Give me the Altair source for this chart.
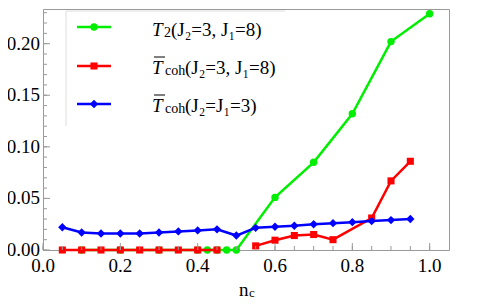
import altair as alt
import pandas as pd

# ---- data ----
green_x = [0.1, 0.2, 0.3, 0.4, 0.425, 0.45, 0.475, 0.5, 0.6, 0.7, 0.8, 0.9, 1.0]
green_y = [0, 0, 0, 0, 0, 0, 0, 0, 0.051, 0.085, 0.132, 0.202, 0.229]

red_x = [0.05, 0.1, 0.15, 0.2, 0.25, 0.3, 0.35, 0.4, 0.45,
         0.55, 0.6, 0.65, 0.7, 0.75, 0.85, 0.9, 0.95]
red_y = [0, 0, 0, 0, 0, 0, 0, 0, 0,
         0.004, 0.0095, 0.014, 0.015, 0.010, 0.031, 0.067, 0.086]
red_seg = [0] * 9 + [1] * 8

blue_x = [0.05, 0.1, 0.15, 0.2, 0.25, 0.3, 0.35, 0.4, 0.45, 0.5,
          0.55, 0.6, 0.65, 0.7, 0.75, 0.8, 0.85, 0.9, 0.95]
blue_y = [0.022, 0.017, 0.016, 0.016, 0.016, 0.017, 0.018, 0.019, 0.020, 0.014,
          0.0215, 0.0225, 0.0235, 0.025, 0.026, 0.027, 0.028, 0.029, 0.030]

x_major = [0.0, 0.2, 0.4, 0.6, 0.8, 1.0]
x_labels = ["0.0", "0.2", "0.4", "0.6", "0.8", "1.0"]
x_minor = [round(i * 0.05, 2) for i in range(0, 21)]
y_major = [0.0, 0.05, 0.10, 0.15, 0.20]
y_labels = ["0.00", "0.05", "0.10", "0.15", "0.20"]
y_minor = [round(i * 0.01, 2) for i in range(0, 24)]

W, H = 406, 241
FONT = "'Liberation Serif', 'Times New Roman', Times, serif"
GREEN, RED, BLUE = "#00ee00", "#ff0000", "#0000ff"
FRAME = "#9a9a9a"

xs = alt.Scale(domain=[0, 1.05], nice=False, zero=False)
ys = alt.Scale(domain=[0, 0.2336], nice=False, zero=False)

gdf = pd.DataFrame({"x": green_x, "y": green_y})
rdf = pd.DataFrame({"x": red_x, "y": red_y, "seg": red_seg})
bdf = pd.DataFrame({"x": blue_x, "y": blue_y})

X = alt.X("x:Q", scale=xs, axis=None)
Y = alt.Y("y:Q", scale=ys, axis=None)

green_line = alt.Chart(gdf).mark_line(color=GREEN, strokeWidth=2.5, clip=False).encode(x=X, y=Y)
green_pts = alt.Chart(gdf).mark_point(shape="circle", filled=True, color=GREEN,
                                      size=55, opacity=1, clip=False).encode(x=X, y=Y)

red_line = alt.Chart(rdf).mark_line(color=RED, strokeWidth=2.5).encode(x=X, y=Y, detail="seg:N")
red_pts = alt.Chart(rdf).mark_point(shape="square", filled=True, color=RED,
                                    size=50, opacity=1).encode(x=X, y=Y)

blue_line = alt.Chart(bdf).mark_line(color=BLUE, strokeWidth=2.5).encode(x=X, y=Y)
blue_pts = alt.Chart(bdf).mark_point(shape="diamond", filled=True, color=BLUE,
                                     size=70, opacity=1).encode(x=X, y=Y)

# inward ticks
xmaj = alt.Chart(pd.DataFrame({"v": x_major})).mark_rule(color=FRAME, strokeWidth=1).encode(
    x=alt.X("v:Q", scale=xs, axis=None), y=alt.value(H), y2=alt.value(H - 7))
xmin = alt.Chart(pd.DataFrame({"v": x_minor})).mark_rule(color=FRAME, strokeWidth=1).encode(
    x=alt.X("v:Q", scale=xs, axis=None), y=alt.value(H), y2=alt.value(H - 4))
ymaj = alt.Chart(pd.DataFrame({"v": y_major})).mark_rule(color=FRAME, strokeWidth=1).encode(
    y=alt.Y("v:Q", scale=ys, axis=None), x=alt.value(0), x2=alt.value(7))
ymin = alt.Chart(pd.DataFrame({"v": y_minor})).mark_rule(color=FRAME, strokeWidth=1).encode(
    y=alt.Y("v:Q", scale=ys, axis=None), x=alt.value(0), x2=alt.value(4))

# tick labels
xlab = alt.Chart(pd.DataFrame({"v": x_major, "t": x_labels})).mark_text(
    font=FONT, fontSize=19, color="black", align="center", baseline="alphabetic").encode(
    x=alt.X("v:Q", scale=xs, axis=None), y=alt.value(H + 22), text="t:N")
ylab = alt.Chart(pd.DataFrame({"v": y_major, "t": y_labels})).mark_text(
    font=FONT, fontSize=19, color="black", align="right", baseline="middle").encode(
    y=alt.Y("v:Q", scale=ys, axis=None), x=alt.value(-3), text="t:N")

one = pd.DataFrame({"a": [0]})

# legend frame (top and left edges only)
leg_frame = [
    alt.Chart(one).mark_rule(color="#dddddd", strokeWidth=1).encode(
        x=alt.value(23), x2=alt.value(242), y=alt.value(2)),
    alt.Chart(one).mark_rule(color="#dddddd", strokeWidth=1).encode(
        x=alt.value(23), y=alt.value(2), y2=alt.value(117)),
]

legend = []
rows = [(18, GREEN, "circle", 55), (57, RED, "square", 50), (95, BLUE, "diamond", 70)]
for cy, col, shp, sz in rows:
    legend.append(alt.Chart(one).mark_rule(color=col, strokeWidth=2.5).encode(
        x=alt.value(34), x2=alt.value(68), y=alt.value(cy)))
    legend.append(alt.Chart(one).mark_point(shape=shp, filled=True, color=col,
                                            size=sz, opacity=1).encode(
        x=alt.value(51), y=alt.value(cy)))

def txt(s, x, y, size=19, style="normal"):
    return alt.Chart(one).mark_text(text=s, font=FONT, fontSize=size, fontStyle=style,
                                    align="left", baseline="alphabetic",
                                    color="black").encode(x=alt.value(x), y=alt.value(y))

# row 1: T2(J2=3, J1=8)
legend += [txt("T", 109, 27, style="italic"), txt("2", 121, 28, size=14),
           txt("(J₂=3, J₁=8)", 128, 27)]
# row 2: T̄coh(J2=3, J1=8)
legend += [txt("T", 109, 65, style="italic"), txt("coh", 122, 66, size=14),
           txt("(J₂=3, J₁=8)", 142, 65),
           alt.Chart(one).mark_rule(color="black", strokeWidth=1).encode(
               x=alt.value(111), x2=alt.value(122), y=alt.value(48))]
# row 3: T̄coh(J2=J1=3)
legend += [txt("T", 109, 103, style="italic"), txt("coh", 122, 104, size=14),
           txt("(J₂=J₁=3)", 142, 103),
           alt.Chart(one).mark_rule(color="black", strokeWidth=1).encode(
               x=alt.value(111), x2=alt.value(122), y=alt.value(86))]

# x title n_c
xtitle = [txt("n", 196, 287, size=19), txt("c", 206, 288, size=13)]

chart = alt.layer(
    green_line, green_pts, red_line, red_pts, blue_line, blue_pts,
    xmaj, xmin, ymaj, ymin, xlab, ylab, *leg_frame, *legend, *xtitle
).properties(
    width=W, height=H,
    background="white",
    autosize=alt.AutoSizeParams(type="none"),
    padding={"left": 35, "top": 1, "right": 20, "bottom": 50},
).configure_view(
    stroke=FRAME, strokeWidth=1
)

chart.save("out.html", embed_options={"renderer": "svg", "actions": False})
